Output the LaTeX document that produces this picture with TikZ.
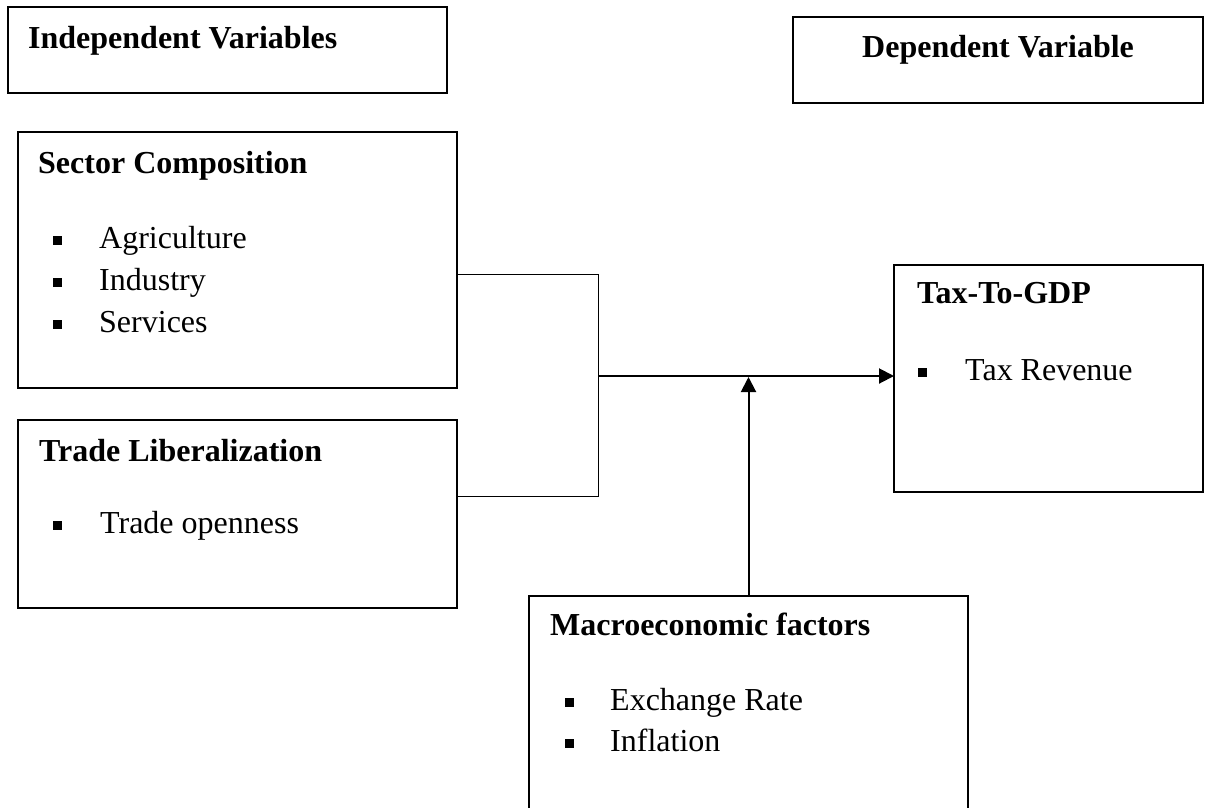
\documentclass[tikz,border=0pt]{standalone}
\usepackage{fontspec}
\setmainfont{Liberation Serif}
\usetikzlibrary{arrows.meta,calc}
\begin{document}
\begin{tikzpicture}[x=1pt,y=-1pt,
  box/.style={draw=black,line width=1.1pt,fill=none,inner sep=0pt,outer sep=0pt,anchor=north west},
  title/.style={anchor=base west,inner sep=0pt,font=\fontsize{32}{38}\selectfont\bfseries},
  item/.style={anchor=base west,inner sep=0pt,font=\fontsize{32}{38}\selectfont},
  conn/.style={draw=black,line width=1pt},
  arr/.style={draw=black,line width=2pt,-{Triangle[length=15pt,width=15pt]}}]
\clip (0,0) rectangle (1208,807);
\fill[white] (0,0) rectangle (1208,807);
\newcommand{\bul}[2]{\fill[black] (#1,#2-12) rectangle ++(8.5,8.5);}
% boxes
\node[box,minimum width=439pt,minimum height=86pt] (indep) at (8,7) {};
\node[box,minimum width=410pt,minimum height=86pt] (dep) at (793,17) {};
\node[box,minimum width=439pt,minimum height=256pt] (sector) at (18,132) {};
\node[box,minimum width=439pt,minimum height=188pt] (trade) at (18,420) {};
\node[box,minimum width=309pt,minimum height=227pt] (tax) at (894,265) {};
\node[box,minimum width=439pt,minimum height=240pt] (macro) at (529,596) {};
% texts
\node[title] (tindep) at (28,48) {Independent Variables};
\node[title] (tdep) at (862,57) {Dependent Variable};
\node[title] (tsector) at (38,173) {Sector Composition};
\node[item] (iagr) at (99,248) {Agriculture};
\node[item] (iind) at (99,290) {Industry};
\node[item] (iser) at (99,332) {Services};
\bul{53}{248}\bul{53}{290}\bul{53}{332}
\node[title] (ttrade) at (39,461) {Trade Liberalization};
\node[item] (iopen) at (100,533) {Trade openness};
\bul{53}{533}
\node[title] (ttax) at (917,303) {Tax-To-GDP};
\node[item] (irev) at (965,380) {Tax Revenue};
\bul{918}{380}
\node[title] (tmacro) at (550,635) {Macroeconomic factors};
\node[item] (iexch) at (610,710) {Exchange Rate};
\node[item] (iinfl) at (610,751) {Inflation};
\bul{565}{710}\bul{565}{751}
% connectors
\coordinate (jtop) at (598,274);
\coordinate (jbot) at (598,496);
\coordinate (jmid) at (598,376);
\draw[conn] (sector.east |- jtop) -- (jtop) -- (jbot) -- (trade.east |- jbot);
\draw[arr] (jmid) -- (tax.west |- jmid);
\draw[arr] (macro.north) -- ($(macro.north |- jmid)+(0,1)$);
\end{tikzpicture}
\end{document}
